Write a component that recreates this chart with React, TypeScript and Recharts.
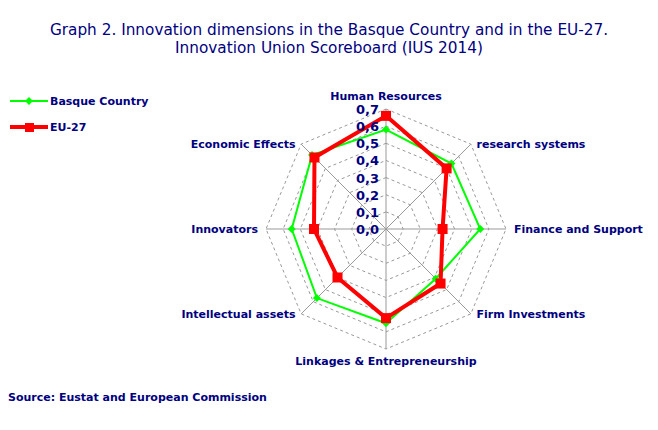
import React from "react";
import {
  RadarChart,
  Radar,
  PolarGrid,
  PolarAngleAxis,
  PolarRadiusAxis,
} from "recharts";

// dimensions of the scoreboard, clockwise from the top
const dimensions = [
  "Human Resources",
  "research systems",
  "Finance and Support",
  "Firm Investments",
  "Linkages & Entrepreneurship",
  "Intellectual assets",
  "Innovators",
  "Economic Effects",
];
const basqueCountry = [0.58, 0.54, 0.55, 0.41, 0.55, 0.57, 0.55, 0.61];
const eu27 = [0.66, 0.5, 0.33, 0.45, 0.52, 0.4, 0.42, 0.59];
const radiusTicks = [0, 0.1, 0.2, 0.3, 0.4, 0.5, 0.6, 0.7];

const data = dimensions.map((name, i) => ({
  name,
  basque: basqueCountry[i],
  eu: eu27[i],
}));

const NAVY = "#000080";
const FONT = "'DejaVu Sans', Verdana, sans-serif";
const CX = 386;
const CY = 229;
const R = 120;
const TICK_GAP = 8;

const AngleTick = (props: any) => {
  const { x, y, textAnchor, payload } = props;
  let ty = y;
  let dy = 4;
  if (textAnchor === "middle") {
    dy = y < CY ? -1 : 8;
  } else {
    // side labels sit level with the polygon corner
    ty = CY + ((y - CY) * R) / (R + TICK_GAP);
  }
  return (
    <text
      x={x}
      y={ty}
      dy={dy}
      textAnchor={textAnchor}
      fill={NAVY}
      fontFamily={FONT}
      fontSize={11}
      fontWeight="bold"
    >
      {payload.value}
    </text>
  );
};

const RadiusTick = (props: any) => {
  const { x, y, payload } = props;
  return (
    <text
      x={x - 7}
      y={y}
      dy={5}
      textAnchor="end"
      fill={NAVY}
      fontFamily={FONT}
      fontSize={13}
      fontWeight="bold"
    >
      {Number(payload.value).toFixed(1).replace(".", ",")}
    </text>
  );
};

const Diamond = (props: any) => {
  const { cx, cy } = props;
  return (
    <polygon
      points={`${cx},${cy - 4} ${cx + 4},${cy} ${cx},${cy + 4} ${cx - 4},${cy}`}
      fill="#00FF00"
    />
  );
};

const Square = (props: any) => {
  const { cx, cy } = props;
  return <rect x={cx - 5} y={cy - 5} width={10} height={10} fill="#FF0000" />;
};

export default function App() {
  return (
    <div
      style={{
        position: "absolute",
        left: 0,
        top: 0,
        width: 658,
        height: 430,
        background: "#fff",
        fontFamily: FONT,
        color: NAVY,
      }}
    >
      <div
        style={{
          position: "absolute",
          top: 21,
          left: 0,
          width: 658,
          textAlign: "center",
          fontSize: 15.3,
          lineHeight: "18px",
        }}
      >
        Graph 2. Innovation dimensions in the Basque Country and in the EU-27.
        <br />
        Innovation Union Scoreboard (IUS 2014)
      </div>

      <RadarChart
        width={658}
        height={430}
        data={data}
        cx={CX}
        cy={CY}
        outerRadius={R}
        startAngle={90}
        endAngle={-270}
      >
        <PolarGrid
          gridType="polygon"
          radialLines={false}
          stroke="#999999"
          strokeDasharray="3 3"
        />
        <PolarGrid gridType="polygon" polarRadius={[0.01]} stroke="#999999" />
        <PolarAngleAxis
          dataKey="name"
          tick={<AngleTick />}
          tickLine={false}
          axisLine={false}
          tickSize={TICK_GAP}
        />
        <PolarRadiusAxis
          type="number"
          angle={90}
          domain={[0, 0.7]}
          ticks={radiusTicks}
          tickCount={8}
          allowDecimals={true}
          tick={<RadiusTick />}
          axisLine={false}
          tickLine={false}
        />
        <Radar
          dataKey="basque"
          stroke="#00FF00"
          strokeWidth={2}
          fill="none"
          fillOpacity={0}
          dot={<Diamond />}
          isAnimationActive={false}
        />
        <Radar
          dataKey="eu"
          stroke="#FF0000"
          strokeWidth={4}
          fill="none"
          fillOpacity={0}
          dot={<Square />}
          isAnimationActive={false}
        />
      </RadarChart>

      {/* legend */}
      <div style={{ position: "absolute", left: 10, top: 93, fontSize: 11, fontWeight: "bold" }}>
        <div style={{ display: "flex", alignItems: "center", height: 16 }}>
          <svg width={40} height={10}>
            <line x1={0} y1={5} x2={38} y2={5} stroke="#00FF00" strokeWidth={2} />
            <polygon points="19,1 23,5 19,9 15,5" fill="#00FF00" />
          </svg>
          <span>Basque Country</span>
        </div>
        <div style={{ display: "flex", alignItems: "center", height: 16, marginTop: 10 }}>
          <svg width={40} height={10}>
            <line x1={0} y1={5} x2={38} y2={5} stroke="#FF0000" strokeWidth={4} />
            <rect x={15} y={1} width={9} height={9} fill="#FF0000" />
          </svg>
          <span>EU-27</span>
        </div>
      </div>

      <div
        style={{
          position: "absolute",
          left: 8,
          top: 391,
          fontSize: 11,
          fontWeight: "bold",
        }}
      >
        Source: Eustat and European Commission
      </div>
    </div>
  );
}
